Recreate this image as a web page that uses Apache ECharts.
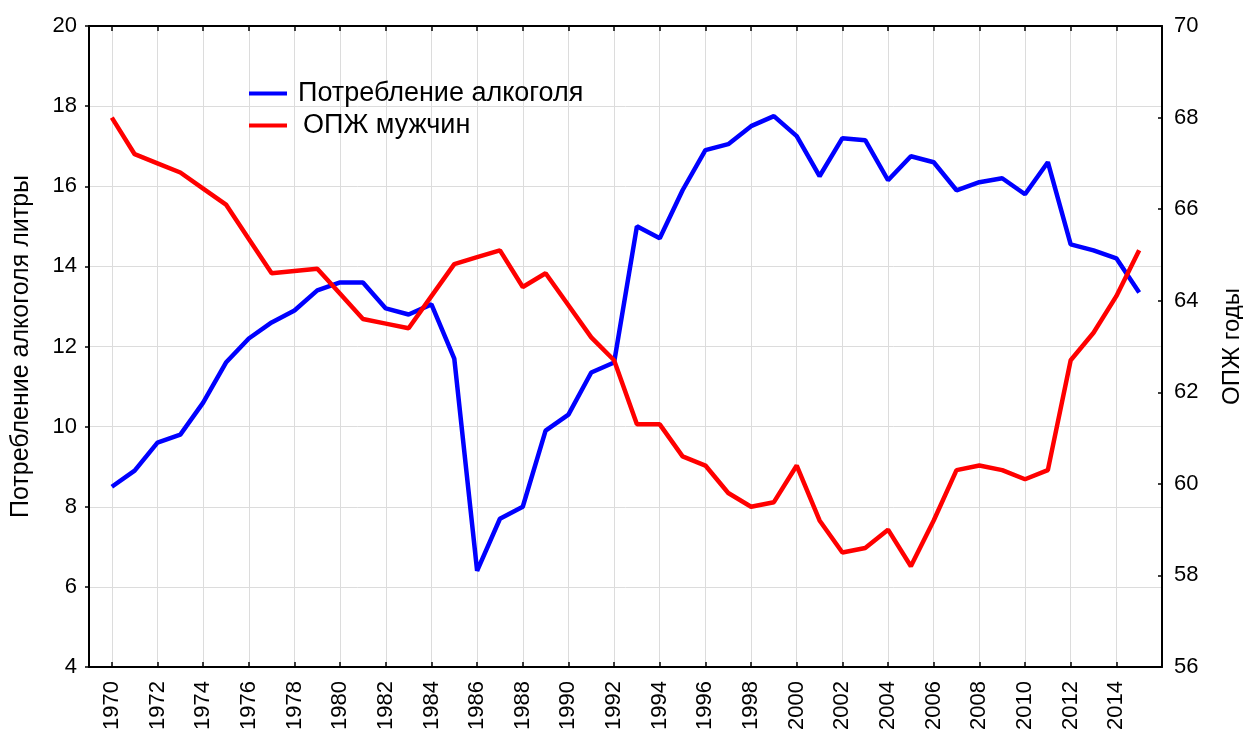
<!DOCTYPE html>
<html>
<head>
<meta charset="utf-8">
<script src="https://cdn.jsdelivr.net/npm/echarts@6/dist/echarts.min.js"></script>
<style>
html,body{margin:0;padding:0;background:#fff;}
#chart{width:1243px;height:735px;}
</style>
</head>
<body>
<div id="chart"></div>
<script>
const years = [1970,1971,1972,1973,1974,1975,1976,1977,1978,1979,
  1980,1981,1982,1983,1984,1985,1986,1987,1988,1989,
  1990,1991,1992,1993,1994,1995,1996,1997,1998,1999,
  2000,2001,2002,2003,2004,2005,2006,2007,2008,2009,
  2010,2011,2012,2013,2014,2015];
const alcohol = [8.5,8.9,9.6,9.8,10.6,11.6,12.2,12.6,12.9,13.4,
  13.6,13.6,12.95,12.8,13.05,11.7,6.4,7.7,8.0,9.9,
  10.3,11.35,11.6,15.0,14.7,15.9,16.9,17.05,17.5,17.75,
  17.25,16.25,17.2,17.15,16.15,16.75,16.6,15.9,16.1,16.2,
  15.8,16.6,14.55,14.4,14.2,13.35];
const lifeMen = [68.0,67.2,67.0,66.8,66.45,66.1,65.35,64.6,64.65,64.7,
  64.15,63.6,63.5,63.4,64.1,64.8,64.95,65.1,64.3,64.6,
  63.9,63.2,62.7,61.3,61.3,60.6,60.4,59.8,59.5,59.6,
  60.4,59.2,58.5,58.6,59.0,58.2,59.2,60.3,60.4,60.3,
  60.1,60.3,62.7,63.3,64.1,65.1];
const yearTicks = [1970,1972,1974,1976,1978,1980,1982,1984,1986,1988,1990,1992,
  1994,1996,1998,2000,2002,2004,2006,2008,2010,2012,2014];
const seriesNames = ['Потребление алкоголя', 'ОПЖ мужчин'];
const leftAxisName = 'Потребление алкоголя литры';
const rightAxisName = 'ОПЖ годы';

const xMin = years[0] - 1, xMax = years[years.length-1] + 1;
const pairs = arr => years.map((y, i) => [y, arr[i]]);

const FONT = '"Liberation Sans", Arial, sans-serif';
const xCommon = {
  type: 'value', min: xMin, max: xMax,
  axisLine: {show: true, onZero: false, lineStyle: {color: '#000', width: 2}},
  axisTick: {show: true, inside: true, length: 5, customValues: yearTicks, lineStyle: {color: '#000', width: 1.5}}
};
const chart = echarts.init(document.getElementById('chart'), null, {renderer:'canvas'});
chart.setOption({
  animation: false,
  textStyle: {fontFamily: FONT},
  grid: {left: 89, right: 81, top: 26, bottom: 68, containLabel: false, outerBoundsMode: 'none'},
  legend: {
    orient: 'vertical', left: 249, top: 80, padding: 0,
    icon: 'rect', itemWidth: 38, itemHeight: 4, itemGap: 5,
    textStyle: {fontFamily: FONT, fontSize: 27, color: '#000'},
    data: [
      {name: seriesNames[0], textStyle: {padding: [0,0,0,6]}},
      {name: seriesNames[1], textStyle: {padding: [0,0,0,11]}}
    ]
  },
  xAxis: [Object.assign({}, xCommon, {
    position: 'bottom',
    axisLabel: {customValues: yearTicks, rotate: 90, margin: 14, color: '#000', fontSize: 22, fontFamily: FONT,
      showMinLabel: true, showMaxLabel: true, formatter: v => String(v)},
    splitLine: {show: true, lineStyle: {color: '#dcdcdc', width: 1}}
  }), Object.assign({}, xCommon, {
    position: 'top',
    axisLabel: {show: false},
    splitLine: {show: false}
  })],
  yAxis: [{
    type: 'value', min: 4, max: 20, interval: 2, position: 'left',
    name: leftAxisName, nameLocation: 'middle', nameGap: 55, nameRotate: 90,
    nameTextStyle: {fontFamily: FONT, fontSize: 25, color: '#000'},
    axisLine: {show: true, lineStyle: {color: '#000', width: 2}},
    axisTick: {show: true, inside: false, length: 4, lineStyle: {color: '#000', width: 1.5}},
    axisLabel: {margin: 12, color: '#000', fontSize: 22, fontFamily: FONT},
    splitLine: {show: true, lineStyle: {color: '#dcdcdc', width: 1}}
  }, {
    type: 'value', min: 56, max: 70, interval: 2, position: 'right',
    name: rightAxisName, nameLocation: 'middle', nameGap: 58, nameRotate: 90,
    nameTextStyle: {fontFamily: FONT, fontSize: 24, color: '#000'},
    axisLine: {show: true, lineStyle: {color: '#000', width: 2}},
    axisTick: {show: true, inside: true, length: 4, lineStyle: {color: '#000', width: 1.5}},
    axisLabel: {margin: 12, color: '#000', fontSize: 22, fontFamily: FONT},
    splitLine: {show: false}
  }],
  series: [{
    name: seriesNames[0], type: 'line', xAxisIndex: 0, yAxisIndex: 0,
    data: pairs(alcohol), showSymbol: false, symbol: 'none',
    lineStyle: {color: '#0000ff', width: 4.5}, itemStyle: {color: '#0000ff'}
  }, {
    name: seriesNames[1], type: 'line', xAxisIndex: 0, yAxisIndex: 1,
    data: pairs(lifeMen), showSymbol: false, symbol: 'none',
    lineStyle: {color: '#ff0000', width: 4.5}, itemStyle: {color: '#ff0000'}
  }]
});
</script>
</body>
</html>
